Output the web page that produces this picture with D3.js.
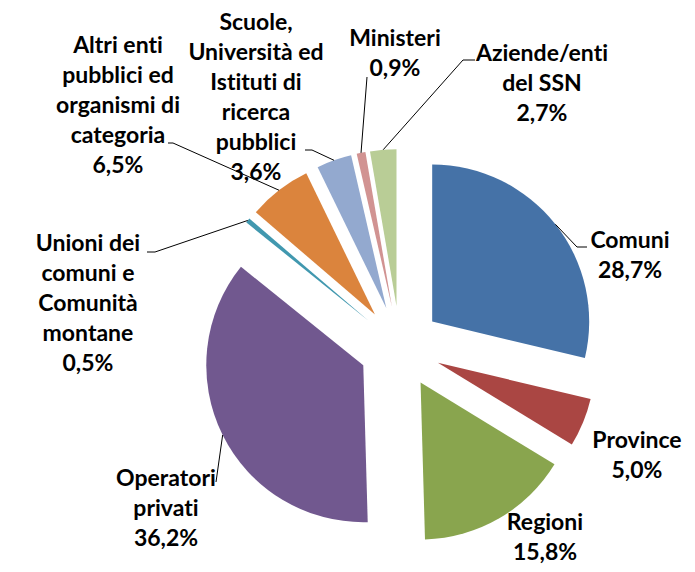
<!DOCTYPE html>
<html lang="it">
<head>
<meta charset="UTF-8">
<script src="https://cdn.jsdelivr.net/npm/d3@7"></script>
<title>Torta</title>
<style>
  body { margin: 0; background: #fff; }
  svg text { font-family: Lato, "Noto Sans", sans-serif; font-weight: bold; font-size: 23px; fill: #000; text-anchor: middle; font-variant-ligatures: none; }
  .leader { fill: none; stroke: #000; stroke-width: 1; }
</style>
</head>
<body>
<script>
// data
let categories = ["Comuni", "Province", "Regioni", "Operatori privati",
  "Unioni dei comuni e Comunità montane",
  "Altri enti pubblici ed organismi di categoria",
  "Scuole, Università ed Istituti di ricerca pubblici",
  "Ministeri", "Aziende/enti del SSN"];
let values = [28.7, 5.0, 15.8, 36.2, 0.5, 6.5, 3.6, 0.9, 2.7];
let labelLines = [
  ["Comuni"], ["Province"], ["Regioni"], ["Operatori", "privati"],
  ["Unioni dei", "comuni e", "Comunità", "montane"],
  ["Altri enti", "pubblici ed", "organismi di", "categoria"],
  ["Scuole,", "Università ed", "Istituti di", "ricerca", "pubblici"],
  ["Ministeri"], ["Aziende/enti", "del SSN"]
];
let colors = ["#4572A7", "#AA4643", "#89A54E", "#71588F", "#4198AF",
  "#DB843D", "#93A9CF", "#D19392", "#B9CD96"];

// layout: label centre (first line) and leader end points
let labelPos = [[630, 240], [637, 440], [545, 522], [166, 478], [88, 243],
  [118, 45], [256, 22], [395, 38], [542, 53]];
let leaderEnds = [
  [[577, 247], [587, 247]],
  null,
  null,
  [[216, 482]],
  [[155, 252], [147, 252]],
  [[173, 143], [168, 143]],
  [[312, 150], [305, 150]],
  [[367, 77]],
  [[463, 60], [475, 60]]
];

var width = 695, height = 572;
var cx = 400, cy = 347, radius = 157, explode = 41, lineH = 30;

var it = d3.formatLocale({decimal: ",", thousands: ".", grouping: [3], currency: ["€", ""]});
var fmt = it.format(".1f");

var svg = d3.select("body").append("svg")
  .attr("width", width).attr("height", height);

var pie = d3.pie().sort(null).value(function(d) { return d; });
var arcs = pie(values);
var arc = d3.arc().innerRadius(0).outerRadius(radius);
var edge = d3.arc().innerRadius(radius).outerRadius(radius);

function offset(d, dist) {
  var a = (d.startAngle + d.endAngle) / 2;
  return [Math.sin(a) * dist, -Math.cos(a) * dist];
}

var g = svg.append("g").attr("transform", "translate(" + cx + "," + cy + ")");

g.selectAll("path.slice")
  .data(arcs)
  .enter()
  .append("path")
  .attr("class", "slice")
  .attr("d", arc)
  .attr("fill", function(d, i) { return colors[i]; })
  .attr("transform", function(d) {
    var o = offset(d, explode);
    return "translate(" + o[0] + "," + o[1] + ")";
  });

// leader lines
arcs.forEach(function(d, i) {
  if (!leaderEnds[i]) return;
  var o = offset(d, explode);
  var m = edge.centroid(d);
  var pts = [[cx + o[0] + m[0], cy + o[1] + m[1]]].concat(leaderEnds[i]);
  svg.append("path").attr("class", "leader").attr("d", d3.line()(pts));
});

// labels
arcs.forEach(function(d, i) {
  var lines = labelLines[i].concat([fmt(values[i]) + "%"]);
  var t = svg.append("text")
    .attr("x", labelPos[i][0])
    .attr("y", labelPos[i][1]);
  lines.forEach(function(l, k) {
    t.append("tspan")
      .attr("x", labelPos[i][0])
      .attr("y", labelPos[i][1] + k * lineH)
      .attr("dy", "0.35em")
      .text(l);
  });
});
</script>
</body>
</html>
